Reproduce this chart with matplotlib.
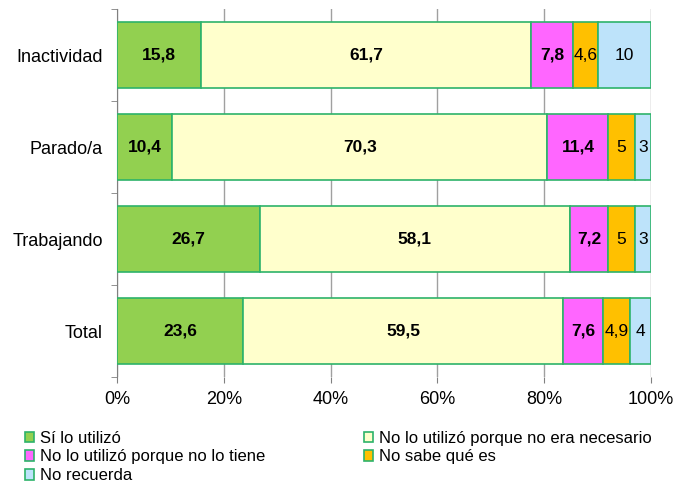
import numpy as np
import matplotlib.pyplot as plt
from matplotlib.patches import Patch

plt.rcParams['font.family'] = ['Liberation Sans', 'DejaVu Sans']

categories = ['Inactividad', 'Parado/a', 'Trabajando', 'Total']
series_names = ['Sí lo utilizó', 'No lo utilizó porque no era necesario',
                'No lo utilizó porque no lo tiene', 'No sabe qué es', 'No recuerda']
si_utilizo = [15.8, 10.4, 26.7, 23.6]
no_necesario = [61.7, 70.3, 58.1, 59.5]
no_tiene = [7.8, 11.4, 7.2, 7.6]
no_sabe = [4.6, 5, 5, 4.9]
no_recuerda = [10, 3, 3, 4]
labels = [
    ['15,8', '10,4', '26,7', '23,6'],
    ['61,7', '70,3', '58,1', '59,5'],
    ['7,8', '11,4', '7,2', '7,6'],
    ['4,6', '5', '5', '4,9'],
    ['10', '3', '3', '4'],
]

colors = ['#92D050', '#FFFFCC', '#FF66FF', '#FFC000', '#BDE3FA']
bold = [True, True, True, False, False]
edge = '#2DB36A'

data = np.array([si_utilizo, no_necesario, no_tiene, no_sabe, no_recuerda], dtype=float)
data = data / data.sum(axis=0) * 100

fig = plt.figure(figsize=(6.76, 4.84), dpi=100)
ax = fig.add_axes([0.173, 0.221, 0.79, 0.76])

y = np.arange(len(categories))[::-1]
left = np.zeros(len(categories))
for i in range(len(series_names)):
    ax.barh(y, data[i], left=left, height=0.72, color=colors[i],
            edgecolor=edge, linewidth=1.2, zorder=3)
    for j in range(len(categories)):
        ax.text(left[j] + data[i][j] / 2, y[j], labels[i][j], ha='center', va='center',
                fontsize=12.5, fontweight='bold' if bold[i] else 'normal', zorder=4)
    left += data[i]

ax.set_xlim(0, 100)
ax.set_ylim(-0.5, len(categories) - 0.5)
ax.set_xticks(np.arange(0, 101, 20))
ax.set_xticklabels([f'{v}%' for v in range(0, 101, 20)], fontsize=13)
ax.set_yticks(y)
ax.set_yticklabels(categories, fontsize=13)
ax.set_yticks(np.arange(-0.5, len(categories), 1), minor=True)
ax.tick_params(axis='y', which='major', length=0, pad=10)
ax.tick_params(axis='y', which='minor', length=4, color='#808080')
ax.tick_params(axis='x', length=4, color='#808080', pad=6)
ax.xaxis.grid(True, color='#A0A0A0', linewidth=1, zorder=0)
for s in ['top', 'bottom']:
    ax.spines[s].set_visible(False)
ax.spines['right'].set_visible(False)
ax.spines['left'].set_color('#808080')

handles = [Patch(facecolor=colors[i], edgecolor=edge, linewidth=1.2) for i in range(5)]
order = [0, 2, 4, 1, 3]
fig.legend([handles[i] for i in order], [series_names[i] for i in order],
           loc='upper left', bbox_to_anchor=(0.037, 0.110), ncol=2, frameon=False,
           fontsize=12, handlelength=0.55, handleheight=0.6, handletextpad=0.35,
           labelspacing=0.22, columnspacing=5.9, borderaxespad=0, borderpad=0)

fig.savefig('out.png', dpi=100)
